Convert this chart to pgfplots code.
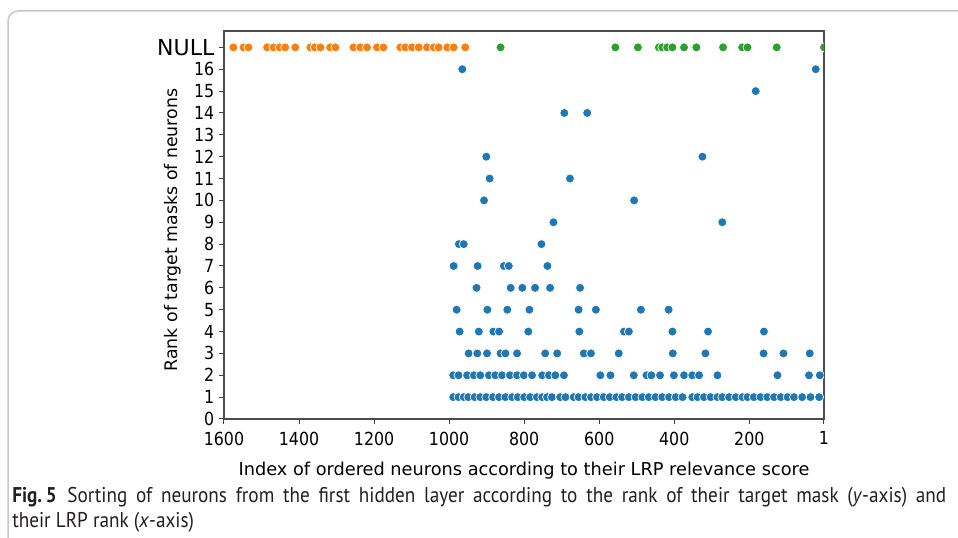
\documentclass[border=0pt]{standalone}
\usepackage{fontspec}
\usepackage{pgfplots}
\pgfplotsset{compat=1.18}
\setmainfont{DejaVu Sans}
\newfontfamily\tickfont{DejaVu Sans}[FakeStretch=0.88]
\newfontfamily\capfont{PT Sans}[FakeStretch=0.9]
\newlength\px
\setlength\px{0.75pt}
\definecolor{mblue}{HTML}{1F77B4}
\definecolor{morange}{HTML}{FF7F0E}
\definecolor{mgreen}{HTML}{2CA02C}
\definecolor{framegray}{HTML}{C8C8C8}
\definecolor{capcol}{HTML}{231F20}

\begin{document}
\begin{tikzpicture}[x=\px,y=\px]
\useasboundingbox (0,0) rectangle (958,538);
% figure box, rounded at top left
\draw[framegray, line width=1.5\px, rounded corners=10\px] (8,0) -- (8,527) -- (958,527);

\begin{axis}[
    at={(224\px,119\px)}, anchor=south west,
    scale only axis, width=600\px, height=388\px,
    x dir=reverse,
    xmin=1, xmax=1600, ymin=0, ymax=17.75,
    xtick={1,200,400,600,800,1000,1200,1400,1600},
    xticklabels={1,200,400,600,800,1000,1200,1400,1600},
    ytick={0,1,...,17},
    yticklabels={0,1,2,3,4,5,6,7,8,9,10,11,12,13,14,15,16,{\rmfamily\fontsize{16.5pt}{18pt}\selectfont NULL}},
    tick align=outside, xtick pos=left, ytick pos=left,
    major tick length=5\px,
    tick style={black!75, line width=1\px},
    axis line style={black!70, line width=1.4\px},
    ticklabel style={font=\tickfont\fontsize{13.5pt}{15pt}\selectfont},
    xticklabel style={yshift=-3\px},
    xlabel={Index of ordered neurons according to their LRP relevance score},
    ylabel={Rank of target masks of neurons},
    xlabel style={font=\fontsize{13.3pt}{15pt}\selectfont, yshift=-8\px},
    ylabel style={font=\fontsize{13pt}{15pt}\selectfont,
      at={(axis description cs:-0.0717,0.487)}, anchor=south, inner sep=0pt},
    clip marker paths=true,
  ]
% ranked neurons
\addplot[only marks, mark=*, mark size=4.5\px,
  mark options={fill=mblue, draw=white, line width=0.7\px}] coordinates {
 (965,16) (23,16)
 (183,15)
 (693,14) (632,14)
 (901,12) (325,12)
 (892,11) (678,11)
 (907,10) (507,10)
 (722,9) (272,9)
 (974,8) (961,8) (754,8)
 (988,7) (924,7) (854,7) (841,7) (738,7)
 (927,6) (836,6) (805,6) (771,6) (731,6) (651,6)
 (980,5) (898,5) (845,5) (786,5) (655,5) (609,5) (489,5) (415,5)
 (972,4) (921,4) (882,4) (867,4) (789,4) (653,4) (534,4) (521,4) (405,4) (310,4) (161,4)
 (948,3) (925,3) (899,3) (863,3) (850,3) (819,3) (744,3) (712,3) (641,3) (622,3)
 (548,3) (404,3) (317,3) (162,3) (109,3) (39,3)
 (989,2) (975,2) (952,2) (934,2) (917,2) (894,2) (877,2) (859,2) (838,2) (819,2)
 (801,2) (779,2) (752,2) (734,2) (717,2) (694,2) (597,2) (570,2) (508,2) (474,2)
 (461,2) (438,2) (401,2) (374,2) (352,2) (334,2) (285,2) (125,2) (41,2) (12,2)
 (989,1) (975,1) (961,1) (949,1) (932,1) (917,1) (901,1) (883,1) (867,1) (850,1)
 (832,1) (817,1) (800,1) (784,1) (766,1) (752,1) (739,1) (726,1) (704,1) (690,1)
 (668,1) (655,1) (637,1) (622,1) (606,1) (588,1) (572,1) (554,1) (539,1) (521,1)
 (503,1) (485,1) (468,1) (450,1) (432,1) (414,1) (396,1) (378,1) (352,1) (338,1)
 (321,1) (303,1) (285,1) (272,1) (254,1) (236,1) (218,1) (205,1) (188,1) (170,1)
 (152,1) (134,1) (116,1) (98,1) (81,1) (59,1) (37,1) (14,1)
};
% NULL, low relevance
\addplot[only marks, mark=*, mark size=4.5\px,
  mark options={fill=morange, draw=white, line width=0.7\px}] coordinates {
 (1575,17) (1548,17) (1535,17) (1485,17) (1468,17) (1452,17) (1437,17) (1410,17)
 (1370,17) (1358,17) (1343,17) (1317,17) (1303,17) (1255,17) (1237,17) (1219,17)
 (1192,17) (1175,17) (1130,17) (1117,17) (1099,17) (1081,17) (1059,17) (1041,17)
 (1028,17) (1005,17) (988,17) (957,17)
};
% NULL, high relevance
\addplot[only marks, mark=*, mark size=4.5\px,
  mark options={fill=mgreen, draw=white, line width=0.7\px}] coordinates {
 (863,17) (557,17) (497,17) (441,17) (432,17) (419,17) (405,17) (374,17)
 (341,17) (270,17) (219,17) (205,17) (127,17) (1,17)
};
\end{axis}

% caption
\node[anchor=base west, inner sep=0, text=capcol, font=\capfont\fontsize{16pt}{18pt}\selectfont]
  at (12,35) {\hbox to 934\px{\textbf{Fig.\,5}\hspace{0.5em}Sorting of neurons from the first hidden layer according to the rank of their target mask (\textit{y}-axis) and}};
\node[anchor=base west, inner sep=0, text=capcol, font=\capfont\fontsize{16pt}{18pt}\selectfont]
  at (12,10) {their LRP rank (\textit{x}-axis)};
\end{tikzpicture}
\end{document}
